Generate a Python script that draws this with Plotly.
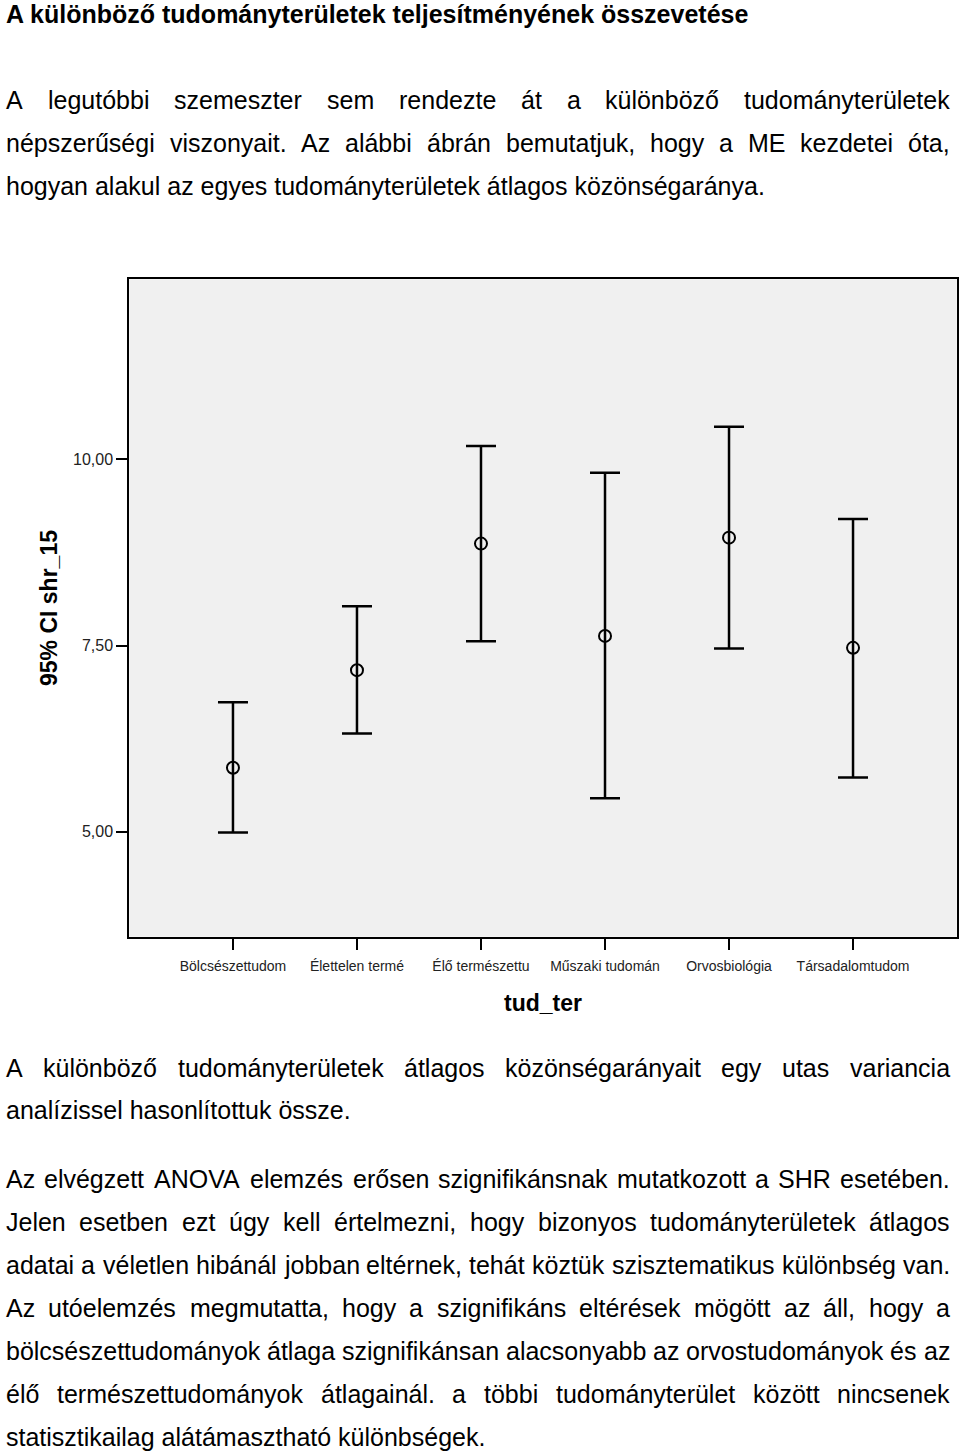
import unicodedata
import plotly.graph_objects as go

# ---------------- data ----------------
categories = ["Bölcsészettudom", "Élettelen termé", "Élő természettu",
              "Műszaki tudomán", "Orvosbiológia", "Társadalomtudom"]
means = [5.86, 7.17, 8.87, 7.63, 8.95, 7.47]
ci_upper = [6.74, 8.03, 10.18, 9.82, 10.44, 9.20]
ci_lower = [4.99, 6.32, 7.56, 5.45, 7.46, 5.73]
y_tickvals = [5.0, 7.5, 10.0]
y_ticktext = ["5,00", "7,50", "10,00"]
x_title = "tud_ter"
y_title = "95% CI shr_15"

# ---------------- page text ----------------
heading = "A különböző tudományterületek teljesítményének összevetése"
top_lines = [
    ("A legutóbbi szemeszter sem rendezte át a különböző tudományterületek", True),
    ("népszerűségi viszonyait. Az alábbi ábrán bemutatjuk, hogy a ME kezdetei óta,", True),
    ("hogyan alakul az egyes tudományterületek átlagos közönségaránya.", False),
]
bottom_lines = [
    ("A különböző tudományterületek átlagos közönségarányait egy utas variancia", True),
    ("analízissel hasonlítottuk össze.", False),
    ("Az elvégzett ANOVA elemzés erősen szignifikánsnak mutatkozott a SHR esetében.", True),
    ("Jelen esetben ezt úgy kell értelmezni, hogy bizonyos tudományterületek átlagos", True),
    ("adatai a véletlen hibánál jobban eltérnek, tehát köztük szisztematikus különbség van.", True),
    ("Az utóelemzés megmutatta, hogy a szignifikáns eltérések mögött az áll, hogy a", True),
    ("bölcsészettudományok átlaga szignifikánsan alacsonyabb az orvostudományok és az", True),
    ("élő természettudományok átlagainál. a többi tudományterület között nincsenek", True),
    ("statisztikailag alátámasztható különbségek.", False),
]

W, H = 960, 1452
FONT = "Liberation Sans, Arial, Helvetica, sans-serif"
BODY = 25

# Arial/Helvetica advance widths (1/1000 em) for justification
HELV = {' ': 278, '!': 278, '%': 889, '(': 333, ')': 333, ',': 278, '-': 333, '.': 278,
        ':': 278, ';': 278, '?': 556, '_': 556,
        'A': 667, 'B': 667, 'C': 722, 'D': 722, 'E': 667, 'F': 611, 'G': 778, 'H': 722,
        'I': 278, 'J': 500, 'K': 667, 'L': 556, 'M': 833, 'N': 722, 'O': 778, 'P': 667,
        'Q': 778, 'R': 722, 'S': 667, 'T': 611, 'U': 722, 'V': 667, 'W': 944, 'X': 667,
        'Y': 667, 'Z': 611,
        'a': 556, 'b': 556, 'c': 500, 'd': 556, 'e': 556, 'f': 278, 'g': 556, 'h': 556,
        'i': 222, 'j': 222, 'k': 500, 'l': 222, 'm': 833, 'n': 556, 'o': 556, 'p': 556,
        'q': 556, 'r': 333, 's': 500, 't': 278, 'u': 556, 'v': 500, 'w': 722, 'x': 500,
        'y': 500, 'z': 500}
for d in "0123456789":
    HELV[d] = 556


def char_w(c):
    if c in "íÍ":
        return 278
    if c in HELV:
        return HELV[c]
    base = unicodedata.normalize("NFD", c)[0]
    return HELV.get(base, 556)


def text_w(s, size):
    return sum(char_w(c) for c in s) * size / 1000.0


def px(x):
    return x / W


def py(y):
    return 1 - y / H


annotations = []


def add_line(text, y, justify, left=5.0, right=949.0, size=BODY):
    if not justify:
        annotations.append(dict(text=text, x=px(left), y=py(y), xref="paper", yref="paper",
                                xanchor="left", yanchor="middle", showarrow=False, borderpad=0,
                                font=dict(family=FONT, size=size, color="black")))
        return
    words = text.split(" ")
    total = sum(text_w(wd, size) for wd in words)
    gap = (right - left - total) / (len(words) - 1)
    x = left
    for wd in words:
        annotations.append(dict(text=wd, x=px(x), y=py(y), xref="paper", yref="paper",
                                xanchor="left", yanchor="middle", showarrow=False, borderpad=0,
                                font=dict(family=FONT, size=size, color="black")))
        x += text_w(wd, size) + gap


annotations.append(dict(text="<b>" + heading + "</b>", x=px(5), y=py(14), xref="paper",
                        yref="paper", xanchor="left", yanchor="middle", showarrow=False,
                        borderpad=0, font=dict(family=FONT, size=25, color="black")))
for i, (t, j) in enumerate(top_lines):
    add_line(t, 100 + 43 * i, j)
bottom_y = [1068, 1110, 1179, 1222, 1265, 1308, 1351, 1394, 1437]
for (t, j), yy in zip(bottom_lines, bottom_y):
    add_line(t, yy, j)

# ---------------- chart ----------------
fig = go.Figure()
fig.add_trace(go.Scatter(
    x=categories, y=means, mode="markers",
    marker=dict(symbol="circle-open", size=12, color="black", line=dict(width=2, color="black")),
    error_y=dict(type="data", symmetric=False,
                 array=[u - m for u, m in zip(ci_upper, means)],
                 arrayminus=[m - l for m, l in zip(means, ci_lower)],
                 color="black", thickness=2.5, width=15),
    showlegend=False, hoverinfo="skip"))

fig.update_layout(
    width=W, height=H,
    margin=dict(l=0, r=0, t=0, b=0, pad=0),
    paper_bgcolor="white", plot_bgcolor="#f0f0f0",
    font=dict(family=FONT, color="black"),
    annotations=annotations,
    xaxis=dict(domain=[129.3 / W, 956.7 / W], range=[-0.836, 5.836], type="category",
               showline=True, mirror=True, linecolor="black", linewidth=2,
               ticks="outside", ticklen=11, tickwidth=2, tickcolor="black",
               ticklabelstandoff=4,
               tickfont=dict(size=14, family=FONT, color="#222222"),
               showgrid=False, zeroline=False, automargin=False,
               title=dict(text="<b>" + x_title + "</b>", font=dict(size=23, family=FONT),
                          standoff=22)),
    yaxis=dict(domain=[1 - 936.7 / H, 1 - 279.3 / H], range=[3.59, 12.42],
               tickvals=y_tickvals, ticktext=y_ticktext,
               showline=True, mirror=True, linecolor="black", linewidth=2,
               ticks="outside", ticklen=11, tickwidth=2, tickcolor="black",
               tickfont=dict(size=16, family=FONT, color="#222222"),
               showgrid=False, zeroline=False, automargin=False,
               title=dict(text="<b>" + y_title + "</b>", font=dict(size=23, family=FONT),
                          standoff=9)),
)

fig.write_html("out.html")
